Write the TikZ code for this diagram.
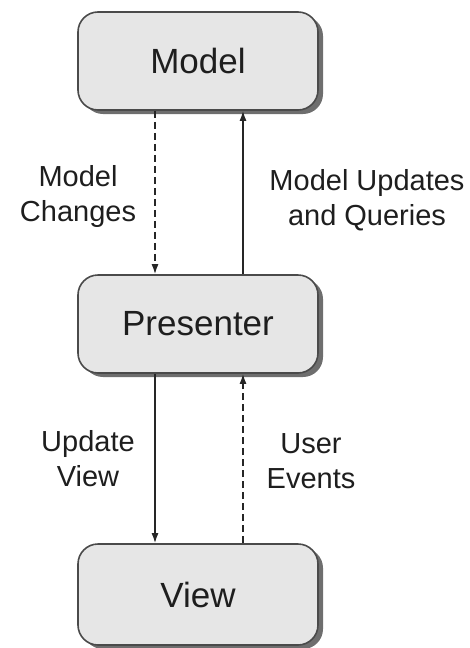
\documentclass[tikz,border=0pt]{standalone}
\usepackage{fontspec}
\setmainfont{Liberation Sans}
\usetikzlibrary{arrows.meta,calc}
\definecolor{boxfill}{HTML}{E6E6E6}
\definecolor{boxline}{HTML}{4A4A4A}
\definecolor{shadowc}{HTML}{6E6E6E}
\definecolor{txt}{HTML}{1E1E1E}
\begin{document}
\begin{tikzpicture}[x=1pt,y=-1pt,
  box/.style={draw=boxline,line width=1.6pt,fill=boxfill,rounded corners=20pt,
    minimum width=240pt,minimum height=98pt,inner sep=0pt,text=txt,
    font=\fontsize{35}{42}\selectfont},
  shadowbox/.style={fill=shadowc,rounded corners=20pt,minimum width=240pt,
    minimum height=98pt,inner sep=0pt},
  lbl/.style={align=center,text=txt,font=\fontsize{29}{35}\selectfont,inner sep=0pt},
  conn/.style={line width=1.5pt,draw=black!85,-{Latex[length=10pt,width=7pt]}},
  dashconn/.style={conn,dash pattern=on 7pt off 4pt}]
\useasboundingbox (0,0) rectangle (470,648);
% shadows
\node[shadowbox] (Ms) at (203,65) {};
\node[shadowbox] (Ps) at (203,328) {};
\node[shadowbox,minimum height=101pt] (Vs) at (203,598.5) {};
% boxes
\node[box] (M) at (198,61) {Model};
\node[box] (P) at (198,324) {Presenter};
\node[box,minimum height=101pt] (V) at (198,594.5) {View};
\coordinate (lx) at (155,0);
\coordinate (rx) at (243,0);
% connectors
\draw[dashconn] (M.south -| lx) -- (P.north -| lx);
\draw[conn] (P.north -| rx) -- (M.south -| rx);
\draw[conn] (P.south -| lx) -- (V.north -| lx);
\draw[dashconn] (V.north -| rx) -- (P.south -| rx);
% labels
\node[lbl] (l1) at (78,196) {Model\\Changes};
\node[lbl] (l2) at (367,200) {Model Updates\\and Queries};
\node[lbl] (l3) at (88,459) {Update\\View};
\node[lbl] (l4) at (311,461) {User\\Events};
\end{tikzpicture}
\end{document}
